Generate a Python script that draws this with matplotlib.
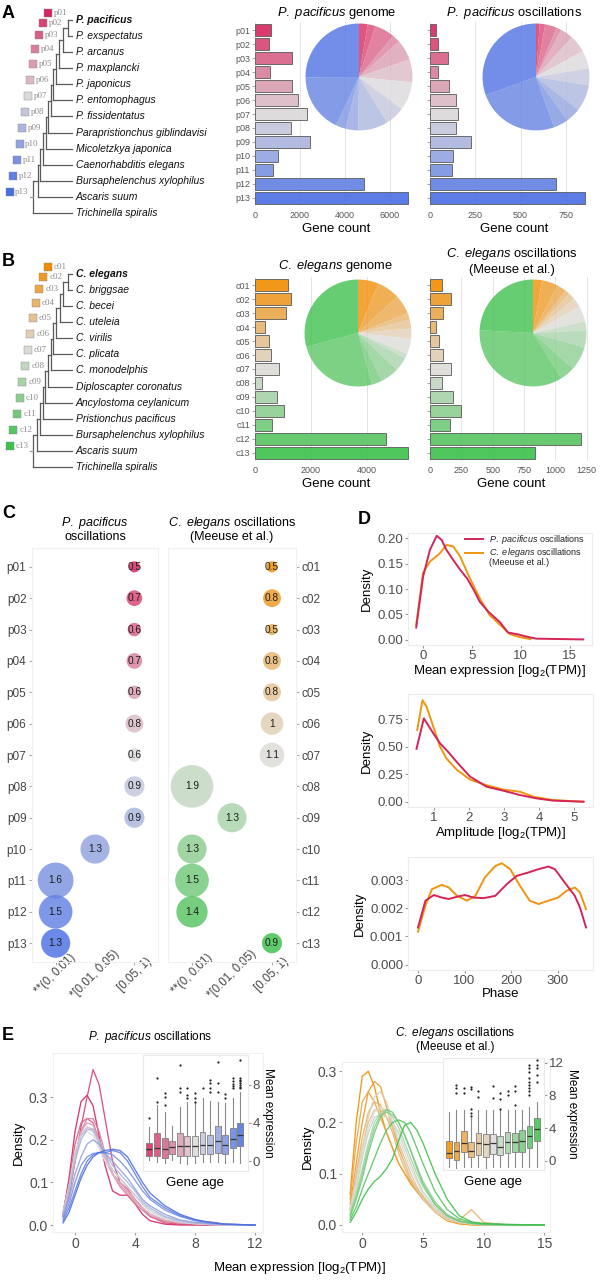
import numpy as np
import matplotlib
matplotlib.use("Agg")
import matplotlib.pyplot as plt
from matplotlib.colors import LinearSegmentedColormap

plt.rcParams['font.family'] = ['Liberation Sans', 'DejaVu Sans']
plt.rcParams['mathtext.fontset'] = 'custom'
plt.rcParams['mathtext.rm'] = 'Liberation Sans'
plt.rcParams['mathtext.it'] = 'Liberation Sans:italic'
plt.rcParams['mathtext.bf'] = 'Liberation Sans:bold'

# ------------------------------------------------------------------ data
pp_classes = ["p%02d" % i for i in range(1, 14)]
ce_classes = ["c%02d" % i for i in range(1, 14)]

pp_species = ["P. pacificus", "P. exspectatus", "P. arcanus", "P. maxplancki",
              "P. japonicus", "P. entomophagus", "P. fissidentatus",
              "Parapristionchus giblindavisi", "Micoletzkya japonica",
              "Caenorhabditis elegans", "Bursaphelenchus xylophilus",
              "Ascaris suum", "Trichinella spiralis"]
ce_species = ["C. elegans", "C. briggsae", "C. becei", "C. uteleia", "C. virilis",
              "C. plicata", "C. monodelphis", "Diploscapter coronatus",
              "Ancylostoma ceylanicum", "Pristionchus pacificus",
              "Bursaphelenchus xylophilus", "Ascaris suum", "Trichinella spiralis"]
# relative depth of the internal nodes (tips = 1, root = 0)
pp_node_depth = [0.92, 0.80, 0.70, 0.62, 0.56, 0.50, 0.44, 0.38, 0.30, 0.24, 0.18, 0.08]
ce_node_depth = [0.92, 0.80, 0.71, 0.63, 0.56, 0.50, 0.44, 0.37, 0.30, 0.24, 0.17, 0.08]

pp_genome = [700, 640, 1660, 670, 1660, 1900, 2340, 1600, 2470, 1040, 815, 4840, 6810]
pp_osc = [31, 46, 100, 44, 106, 146, 152, 144, 224, 128, 124, 698, 854]
ce_genome = [1167, 1274, 1107, 369, 500, 583, 869, 262, 798, 1024, 595, 4679, 5452]
ce_osc = [94, 170, 100, 47, 73, 100, 165, 92, 181, 249, 157, 1208, 841]

pval_bins = ["**(0, 0.01)", "*[0.01, 0.05)", "[0.05, 1)"]
pp_bub_val = [0.5, 0.7, 0.6, 0.7, 0.6, 0.8, 0.6, 0.9, 0.9, 1.3, 1.6, 1.5, 1.3]
pp_bub_bin = [2, 2, 2, 2, 2, 2, 2, 2, 2, 1, 0, 0, 0]
ce_bub_val = [0.5, 0.8, 0.5, 0.8, 0.8, 1.0, 1.1, 1.9, 1.3, 1.3, 1.5, 1.4, 0.9]
ce_bub_bin = [2, 2, 2, 2, 2, 2, 2, 0, 1, 0, 0, 0, 2]

series_names = ["P. pacificus oscillations", "C. elegans oscillations", "(Meeuse et al.)"]
mean_x_pp = [-0.7, 0, 0.7, 1.4, 1.9, 2.4, 3.1, 3.8, 4.5, 5.2, 5.8, 6.7, 7.9, 8.7, 9.6, 10.6, 11.6, 16.4]
mean_y_pp = [0.024, 0.124, 0.177, 0.205, 0.197, 0.177, 0.157, 0.138, 0.121, 0.098, 0.075, 0.055,
             0.034, 0.014, 0.011, 0.006, 0.002, 0.0005]
mean_x_ce = [-0.7, 0, 0.7, 1.7, 2.4, 3.1, 3.8, 4.8, 5.8, 6.8, 7.9, 8.9, 9.9, 11.0]
mean_y_ce = [0.029, 0.132, 0.154, 0.170, 0.187, 0.184, 0.164, 0.121, 0.082, 0.049, 0.029, 0.011, 0.005, 0.001]

amp_x_pp = [0.5, 0.71, 0.98, 1.17, 1.41, 1.65, 2.03, 2.5, 2.98, 3.46, 3.93, 4.4, 5.27]
amp_y_pp = [0.48, 0.756, 0.62, 0.53, 0.45, 0.36, 0.227, 0.136, 0.10, 0.06, 0.03, 0.01, 0.0]
amp_x_ce = [0.52, 0.67, 0.79, 0.98, 1.17, 1.36, 1.65, 2.03, 2.5, 2.98, 3.46, 3.84, 4.4, 5.27]
amp_y_ce = [0.65, 0.92, 0.86, 0.68, 0.50, 0.39, 0.29, 0.20, 0.15, 0.11, 0.09, 0.045, 0.015, 0.0]

phase_x = [0, 16, 34, 51, 66, 84, 101, 119, 141, 166, 191, 212, 237, 259, 280, 294, 315, 337, 348, 361]
phase_pp = [0.00132, 0.00227, 0.00247, 0.00238, 0.00233, 0.00241, 0.00247, 0.00238, 0.00236, 0.00244,
            0.00286, 0.00315, 0.00327, 0.00339, 0.00348, 0.00339, 0.00292, 0.00244, 0.00203, 0.00132]
phase_x_ce = [0, 16, 30, 51, 66, 84, 105, 123, 144, 166, 180, 198, 219, 240, 259, 280, 301, 319, 337, 348, 361]
phase_ce = [0.00117, 0.0021, 0.00268, 0.00283, 0.00274, 0.00244, 0.00227, 0.00244, 0.0031, 0.0035, 0.0036,
            0.00339, 0.0028, 0.00227, 0.00215, 0.00227, 0.00238, 0.00262, 0.00274, 0.00256, 0.00197]

# E: expression densities per gene-age class
e_x_pp = [-0.8, -0.4, 0, 0.4, 0.8, 1.2, 1.6, 2.0, 2.5, 3.0, 3.5, 4.0, 4.5, 5, 6, 7, 8, 9, 10, 12]
e_y_pp = [
    [0.025, 0.11, 0.22, 0.29, 0.305, 0.28, 0.21, 0.14, 0.08, 0.07, 0.07, 0.05, 0.025, 0.01, 0.002, 0, 0, 0, 0, 0],
    [0.02, 0.07, 0.15, 0.23, 0.30, 0.365, 0.33, 0.25, 0.15, 0.10, 0.08, 0.06, 0.04, 0.02, 0.005, 0.002, 0.001, 0, 0, 0],
    [0.03, 0.10, 0.19, 0.24, 0.25, 0.24, 0.20, 0.16, 0.12, 0.10, 0.085, 0.06, 0.04, 0.025, 0.01, 0.004, 0.002, 0.001, 0, 0],
    [0.02, 0.07, 0.15, 0.22, 0.25, 0.25, 0.22, 0.17, 0.12, 0.09, 0.07, 0.05, 0.035, 0.02, 0.008, 0.004, 0.003, 0.001, 0, 0],
    [0.025, 0.08, 0.16, 0.22, 0.24, 0.235, 0.20, 0.16, 0.12, 0.095, 0.075, 0.055, 0.04, 0.025, 0.01, 0.005, 0.004, 0.008, 0.002, 0],
    [0.03, 0.09, 0.17, 0.215, 0.23, 0.225, 0.19, 0.15, 0.12, 0.10, 0.08, 0.06, 0.04, 0.025, 0.012, 0.006, 0.003, 0.001, 0, 0],
    [0.03, 0.09, 0.17, 0.21, 0.22, 0.21, 0.18, 0.15, 0.13, 0.11, 0.09, 0.07, 0.05, 0.03, 0.015, 0.007, 0.003, 0.001, 0, 0],
    [0.03, 0.09, 0.16, 0.21, 0.225, 0.22, 0.19, 0.16, 0.13, 0.11, 0.09, 0.07, 0.05, 0.035, 0.018, 0.008, 0.004, 0.002, 0.001, 0],
    [0.025, 0.08, 0.15, 0.20, 0.225, 0.225, 0.20, 0.17, 0.14, 0.12, 0.10, 0.08, 0.055, 0.04, 0.02, 0.01, 0.005, 0.002, 0.001, 0],
    [0.02, 0.06, 0.12, 0.16, 0.19, 0.20, 0.19, 0.17, 0.15, 0.13, 0.11, 0.085, 0.06, 0.045, 0.025, 0.012, 0.006, 0.003, 0.001, 0],
    [0.015, 0.05, 0.10, 0.14, 0.16, 0.168, 0.17, 0.17, 0.165, 0.15, 0.13, 0.105, 0.08, 0.06, 0.035, 0.02, 0.01, 0.005, 0.002, 0],
    [0.01, 0.04, 0.08, 0.12, 0.15, 0.165, 0.17, 0.17, 0.175, 0.17, 0.15, 0.12, 0.09, 0.065, 0.04, 0.022, 0.012, 0.006, 0.002, 0],
    [0.005, 0.03, 0.07, 0.11, 0.14, 0.16, 0.17, 0.175, 0.178, 0.175, 0.16, 0.13, 0.10, 0.075, 0.045, 0.025, 0.013, 0.006, 0.002, 0],
]
e_x_ce = [-1, -0.5, 0, 0.5, 1, 1.5, 2, 2.5, 3, 3.5, 4, 4.5, 5, 6, 7, 8, 9, 10, 12, 15]
e_y_ce = [
    [0.06, 0.20, 0.29, 0.30, 0.27, 0.22, 0.18, 0.15, 0.12, 0.10, 0.08, 0.065, 0.05, 0.025, 0.008, 0.002, 0, 0, 0, 0],
    [0.04, 0.12, 0.20, 0.26, 0.28, 0.27, 0.23, 0.19, 0.15, 0.12, 0.09, 0.07, 0.05, 0.03, 0.015, 0.006, 0.004, 0.002, 0, 0],
    [0.05, 0.16, 0.24, 0.26, 0.24, 0.21, 0.18, 0.15, 0.12, 0.10, 0.085, 0.07, 0.055, 0.03, 0.012, 0.004, 0.001, 0, 0, 0],
    [0.03, 0.10, 0.17, 0.22, 0.24, 0.235, 0.21, 0.18, 0.14, 0.11, 0.085, 0.065, 0.05, 0.03, 0.015, 0.01, 0.03, 0.005, 0, 0],
    [0.03, 0.09, 0.15, 0.20, 0.225, 0.225, 0.21, 0.19, 0.16, 0.13, 0.10, 0.075, 0.055, 0.03, 0.014, 0.006, 0.002, 0.001, 0, 0],
    [0.03, 0.09, 0.15, 0.21, 0.25, 0.26, 0.24, 0.20, 0.16, 0.12, 0.09, 0.07, 0.05, 0.025, 0.01, 0.004, 0.002, 0, 0, 0],
    [0.03, 0.08, 0.14, 0.19, 0.22, 0.23, 0.225, 0.20, 0.17, 0.14, 0.11, 0.085, 0.06, 0.03, 0.014, 0.006, 0.002, 0.001, 0, 0],
    [0.025, 0.07, 0.13, 0.18, 0.21, 0.215, 0.21, 0.20, 0.18, 0.15, 0.12, 0.09, 0.065, 0.035, 0.016, 0.007, 0.003, 0.001, 0, 0],
    [0.02, 0.06, 0.11, 0.16, 0.20, 0.22, 0.225, 0.21, 0.19, 0.16, 0.13, 0.10, 0.075, 0.04, 0.02, 0.008, 0.003, 0.001, 0, 0],
    [0.02, 0.055, 0.10, 0.15, 0.19, 0.215, 0.22, 0.215, 0.20, 0.175, 0.145, 0.115, 0.085, 0.045, 0.02, 0.008, 0.003, 0.001, 0, 0],
    [0.015, 0.05, 0.09, 0.14, 0.18, 0.21, 0.225, 0.22, 0.20, 0.175, 0.145, 0.11, 0.08, 0.04, 0.018, 0.007, 0.003, 0.001, 0, 0],
    [0.01, 0.035, 0.07, 0.10, 0.13, 0.16, 0.185, 0.20, 0.205, 0.20, 0.18, 0.15, 0.12, 0.065, 0.03, 0.012, 0.005, 0.002, 0.001, 0],
    [0.005, 0.025, 0.05, 0.07, 0.085, 0.095, 0.11, 0.13, 0.165, 0.195, 0.20, 0.185, 0.16, 0.10, 0.05, 0.018, 0.006, 0.003, 0.001, 0],
]

# E insets: boxplots of mean expression by gene age
pp_box_med = [1.22, 1.39, 1.22, 1.5, 1.57, 1.63, 1.57, 1.67, 1.74, 2.09, 1.74, 2.33, 2.78]
pp_box_q1 = [0.52, 0.52, 0.35, 0.70, 0.52, 0.52, 0.52, 0.77, 0.77, 0.87, 0.77, 1.39, 1.57]
pp_box_q3 = [1.91, 2.96, 2.43, 2.09, 2.96, 2.60, 2.60, 3.06, 2.78, 3.65, 2.78, 3.48, 4.00]
pp_box_lo = [0.1, -0.1, -0.2, 0.1, -0.2, -0.3, -0.2, -0.1, -0.1, -0.1, -0.2, -0.1, -0.2]
pp_box_hi = [3.55, 5.9, 5.2, 3.65, 5.7, 6.2, 6.2, 6.6, 6.3, 6.2, 6.1, 6.6, 7.3]
pp_box_out = [[4.5], [6.2, 8.7], [5.9, 6.7, 7.1], [], [7.3, 7.65, 10.1], [6.6, 6.96, 7.65],
              [6.2, 6.6, 7.1], [7.65], [7.3, 7.65, 8.2, 8.5], [7.3, 8.2, 10.4], [6.6, 7.0],
              [7.65, 7.9, 8.1, 8.4, 8.7], [7.65, 7.8, 8.0, 8.2, 8.4, 8.5, 8.7, 10.6]]
ce_box_med = [0.93, 1.26, 2.15, 1.26, 2.15, 2.03, 2.15, 1.75, 2.28, 2.28, 2.44, 3.05, 3.86]
ce_box_q1 = [0.33, 0.12, 1.06, 0.53, 0.73, 0.53, 0.81, 0.73, 1.02, 1.06, 1.14, 1.63, 2.44]
ce_box_q3 = [2.44, 2.28, 3.66, 2.28, 3.37, 3.25, 3.29, 3.0, 3.5, 3.37, 3.78, 4.3, 5.2]
ce_box_lo = [-0.7, -0.8, -0.7, -0.7, -0.7, -0.8, -0.7, -0.7, -0.7, -0.7, -0.7, -0.7, -0.7]
ce_box_hi = [6.0, 6.2, 6.2, 5.3, 6.2, 6.2, 6.2, 6.2, 6.2, 6.2, 6.2, 6.6, 7.2]
ce_box_out = [[], [8.3, 8.9, 9.3], [8.3, 8.9], [5.5, 5.9, 6.4, 8.8, 9.0], [7.8, 8.6], [],
              [7.7, 9.1], [6.4, 7.6, 8.3], [8.0, 8.6], [6.8, 8.6, 9.2], [],
              [8.1, 8.5, 8.9, 9.3, 9.7, 10.1, 10.9, 11.3, 11.7], [9.7, 10.5, 11.3, 11.7, 12.3]]

# ------------------------------------------------------------------ style
CRIMSON = "#D42458"
ORANGE = "#F0950F"
pp_cmap = LinearSegmentedColormap.from_list("pp", ["#D6245C", "#DCD8DA", "#4A6FE3"])
ce_cmap = LinearSegmentedColormap.from_list("ce", ["#F08C00", "#DDDBD8", "#3CC04A"])
pp_colors = [pp_cmap(i / 12) for i in range(13)]
ce_colors = [ce_cmap(i / 12) for i in range(13)]
TICK = "#4d4d4d"

W, H = 601, 1280
fig = plt.figure(figsize=(W / 100, H / 100), dpi=100)


def px_axes(x0, y0, x1, y1):
    return fig.add_axes([x0 / W, 1 - y1 / H, (x1 - x0) / W, (y1 - y0) / H])


def px_text(x, y, s, **kw):
    fig.text(x / W, 1 - y / H, s, **kw)


def soft_frame(ax, color="#ececec"):
    for s in ax.spines.values():
        s.set_color(color)
        s.set_linewidth(0.8)


# ------------------------------------------------------------------ trees
def draw_tree(ax, species, depths, labels, colors):
    ax.set_xlim(-0.72, 4.8)
    ax.set_ylim(13.68, -1.244)
    ax.axis("off")
    lc = "#5a5a5a"
    clade_y = [0.0]
    for k in range(1, len(species)):
        d = depths[k - 1]
        y0 = clade_y[-1]
        ax.plot([d, d], [y0, k], color=lc, lw=0.9)
        ax.plot([d, 1.0], [k, k], color=lc, lw=0.9)
        x_prev = 1.0 if k == 1 else depths[k - 2]
        ax.plot([d, x_prev], [y0, y0], color=lc, lw=0.9)
        clade_y.append((y0 + k) / 2)
    ax.plot([0.0, depths[-1]], [clade_y[-1], clade_y[-1]], color="#999", lw=0.9)
    for i, name in enumerate(species):
        ax.text(1.1, i, name, style="italic", weight="bold" if i == 0 else "normal",
                fontsize=7.5, va="center", ha="left", color="#111")
    node_x = list(depths) + [0.0]
    for k, lab in enumerate(labels):
        y = clade_y[k] - (0.45 if k == 0 else 0.3)
        x = node_x[k] - 0.03
        ax.text(x, y, lab, ha="right", va="center", family="Liberation Serif",
                fontsize=6.5, color="#8c8c8c")
        ax.plot(x - 0.46, y, marker="s", ms=5.2, color=colors[k], mec="#8a8a8a", mew=0.3)


draw_tree(px_axes(0, 0, 230, 240), pp_species, pp_node_depth, pp_classes, pp_colors)
draw_tree(px_axes(0, 254, 230, 494), ce_species, ce_node_depth, ce_classes, ce_colors)


# ------------------------------------------------------------------ bars + pies
def bar_panel(box, values, colors, labels, xmax, xticks, title, title_pad):
    ax = px_axes(*box)
    y = np.arange(len(values))
    ax.barh(y, values, height=0.88, color=colors, alpha=0.9, edgecolor="#5f5f5f",
            linewidth=0.7, zorder=2)
    ax.set_ylim(12.6, -0.6)
    ax.set_xlim(0, xmax)
    ax.set_xticks(xticks)
    ax.set_xticklabels([str(t) for t in xticks])
    ax.grid(axis="x", color="#e4e4e4", lw=0.7)
    ax.set_axisbelow(True)
    for s in ax.spines.values():
        s.set_visible(False)
    ax.set_yticks(y)
    ax.set_yticklabels(labels)
    ax.tick_params(axis="y", length=2, color="#aaa", labelsize=6.5, labelcolor="#555", pad=1.5)
    ax.tick_params(axis="x", length=0, labelsize=6.5, labelcolor="#555", pad=3.5)
    ax.set_xlabel("Gene count", fontsize=9.5, labelpad=2)
    ax.set_title(title, fontsize=9.3, pad=title_pad)
    return ax


def pie_panel(cx, cy, values, colors):
    ax = px_axes(cx - 54, cy - 54, cx + 54, cy + 54)
    ax.pie(values, colors=colors, startangle=90, counterclock=False,
           wedgeprops=dict(linewidth=0, alpha=0.78))
    ax.set_xlim(-1.01, 1.01)
    ax.set_ylim(-1.01, 1.01)


bar_panel((255, 22, 418, 206), pp_genome, pp_colors, pp_classes, 7270, [0, 2000, 4000, 6000],
          r"$\mathit{P.\ pacificus}$ genome", 4)
bar_panel((430, 22, 598, 206), pp_osc, pp_colors, [""] * 13, 928, [0, 250, 500, 750],
          r"$\mathit{P.\ pacificus}$ oscillations", 4)
pie_panel(359, 77, pp_genome, pp_colors)
pie_panel(536, 77, pp_osc, pp_colors)

bar_panel((255, 277, 417, 461), ce_genome, ce_colors, ce_classes, 5786, [0, 2000, 4000],
          r"$\mathit{C.\ elegans}$ genome", 6)
bar_panel((430, 277, 593, 461), ce_osc, ce_colors, [""] * 13, 1300,
          [0, 250, 500, 750, 1000, 1250],
          "$\\mathit{C.\\ elegans}$ oscillations\n(Meeuse et al.)", 3)
pie_panel(358, 333, ce_genome, ce_colors)
pie_panel(533, 333, ce_osc, ce_colors)


# ------------------------------------------------------------------ C bubbles
def bubble_panel(box, vals, bins, colors, labels, right, title):
    ax = px_axes(*box)
    rows = np.arange(len(vals))
    sizes = [(2 * 11.2 * v * 0.72) ** 2 for v in vals]
    ax.scatter(bins, rows, s=sizes, c=colors, alpha=0.82, edgecolors="none", zorder=2)
    for r, b, v in zip(rows, bins, vals):
        ax.text(b, r, f"{v:g}", ha="center", va="center", fontsize=7.3, color="#1e1e1e", zorder=3)
    ax.set_xlim(-0.6, 2.6)
    ax.set_ylim(12.6, -0.6)
    ax.set_yticks(rows)
    ax.set_yticklabels(labels)
    if right:
        ax.yaxis.tick_right()
    ax.set_xticks(range(len(pval_bins)))
    ax.set_xticklabels(pval_bins)
    plt.setp(ax.get_xticklabels(), rotation=45, ha="center", va="center", rotation_mode="anchor")
    ax.tick_params(axis="y", length=2, color="#aaa", labelsize=8.5, labelcolor="#444", pad=2)
    ax.tick_params(axis="x", length=2, color="#aaa", labelsize=8.3, labelcolor="#444", pad=7)
    soft_frame(ax, "#f0f0f0")
    ax.set_title(title, fontsize=9, pad=6, linespacing=1.0)


bubble_panel((32, 548, 158, 962), pp_bub_val, pp_bub_bin, pp_colors, pp_classes, False,
             "$\\mathit{P.\\ pacificus}$\noscillations")
bubble_panel((168, 548, 296, 962), ce_bub_val, ce_bub_bin, ce_colors, ce_classes, True,
             "$\\mathit{C.\\ elegans}$ oscillations\n(Meeuse et al.)")


# ------------------------------------------------------------------ D densities
def density_axes(box, xlim, ylim, xticks, yticks, ylabels, xlabel):
    ax = px_axes(*box)
    ax.set_xlim(*xlim)
    ax.set_ylim(*ylim)
    ax.set_xticks(xticks)
    ax.set_yticks(yticks)
    ax.set_yticklabels(ylabels)
    ax.tick_params(length=2, color="#999", labelsize=9.5, labelcolor=TICK, pad=1.5)
    soft_frame(ax)
    ax.set_ylabel("Density", fontsize=9.5, labelpad=3)
    ax.set_xlabel(xlabel, fontsize=9.5, labelpad=1)
    return ax


d1 = density_axes((408, 533, 592, 645), (-1.54, 17.3), (-0.0105, 0.2105), [0, 5, 10, 15],
                  [0, 0.05, 0.1, 0.15, 0.2], ["0.00", "0.05", "0.10", "0.15", "0.20"],
                  "Mean expression [log$_2$(TPM)]")
d1.plot(mean_x_ce, mean_y_ce, color=ORANGE, lw=1.4)
d1.plot(mean_x_pp, mean_y_pp, color=CRIMSON, lw=1.4)
d1.plot([0.31, 0.408], [0.946, 0.946], color=CRIMSON, lw=1.4, transform=d1.transAxes)
d1.plot([0.31, 0.408], [0.824, 0.824], color=ORANGE, lw=1.4, transform=d1.transAxes)
d1.text(0.44, 0.946, "$\\mathit{P.\\ pacificus}$ oscillations", transform=d1.transAxes,
        fontsize=6.5, va="center", color="#222")
d1.text(0.44, 0.824, "$\\mathit{C.\\ elegans}$ oscillations", transform=d1.transAxes,
        fontsize=6.5, va="center", color="#222")
d1.text(0.44, 0.735, series_names[2], transform=d1.transAxes, fontsize=6.5, va="center", color="#222")

d2 = density_axes((408, 694, 593, 807), (0.257, 5.54), (-0.048, 0.977), [1, 2, 3, 4, 5],
                  [0, 0.25, 0.5, 0.75], ["0.00", "0.25", "0.50", "0.75"],
                  "Amplitude [log$_2$(TPM)]")
d2.plot(amp_x_ce, amp_y_ce, color=ORANGE, lw=1.4)
d2.plot(amp_x_pp, amp_y_pp, color=CRIMSON, lw=1.4)

d3 = density_axes((408, 857, 593, 970), (-21.5, 376), (-0.00019, 0.00382), [0, 100, 200, 300],
                  [0, 0.001, 0.002, 0.003], ["0.000", "0.001", "0.002", "0.003"], "Phase")
d3.plot(phase_x_ce, phase_ce, color=ORANGE, lw=1.4)
d3.plot(phase_x, phase_pp, color=CRIMSON, lw=1.4)


# ------------------------------------------------------------------ E
def expr_panel(box, xs, curves, colors, xlim, ylim, xticks):
    ax = px_axes(*box)
    for ys, c in zip(curves, colors):
        ax.plot(xs, ys, color=c, lw=0.95, alpha=0.9)
    ax.set_xlim(*xlim)
    ax.set_ylim(*ylim)
    ax.set_xticks(xticks)
    ax.set_yticks([0, 0.1, 0.2, 0.3])
    ax.set_yticklabels(["0.0", "0.1", "0.2", "0.3"])
    ax.tick_params(length=2, color="#999", labelsize=10, labelcolor=TICK, pad=1.5)
    soft_frame(ax, "#f0f0f0")
    ax.set_ylabel("Density", fontsize=9.5, labelpad=3)
    return ax


def box_inset(box, med, q1, q3, lo, hi, out, colors, ylim, yticks):
    ax = px_axes(*box)
    stats = [dict(med=m, q1=a, q3=b, whislo=l, whishi=h, fliers=f)
             for m, a, b, l, h, f in zip(med, q1, q3, lo, hi, out)]
    parts = ax.bxp(stats, positions=range(1, 14), widths=0.78, patch_artist=True,
                   showcaps=False,
                   flierprops=dict(marker="o", markersize=1.6, markerfacecolor="#222",
                                   markeredgecolor="none"),
                   medianprops=dict(color="#333", lw=0.9),
                   whiskerprops=dict(color="#8a8a8a", lw=0.8),
                   boxprops=dict(edgecolor="#707070", lw=0.6))
    for patch, c in zip(parts["boxes"], colors):
        patch.set_facecolor(c)
        patch.set_alpha(0.85)
    ax.set_xlim(0.15, 14.0)
    ax.set_ylim(*ylim)
    ax.set_xticks([])
    ax.set_yticks(yticks)
    ax.yaxis.tick_right()
    ax.yaxis.set_label_position("right")
    ax.tick_params(axis="y", length=2, color="#999", labelsize=9.5, labelcolor=TICK, pad=1.5)
    ax.set_ylabel("Mean expression", fontsize=8.5, rotation=270, labelpad=10)
    ax.set_xlabel("Gene age", fontsize=9.5, labelpad=4)
    soft_frame(ax, "#eaeaea")
    return ax


expr_panel((53, 1053, 263, 1232), e_x_pp, e_y_pp, pp_colors, (-1.47, 12.53), (-0.0164, 0.404),
           [0, 4, 8, 12])
box_inset((143, 1055, 248, 1171), pp_box_med, pp_box_q1, pp_box_q3, pp_box_lo, pp_box_hi,
          pp_box_out, pp_colors, (-1.04, 11.13), [0, 4, 8])
expr_panel((342, 1062, 550, 1232), e_x_ce, e_y_ce, ce_colors, (-1.67, 15.47), (-0.0137, 0.318),
           [0, 5, 10, 15])
box_inset((443, 1058, 544, 1170), ce_box_med, ce_box_q1, ce_box_q3, ce_box_lo, ce_box_hi,
          ce_box_out, ce_colors, (-1.1, 12.57), [0, 4, 8, 12])

px_text(150, 1037, "$\\mathit{P.\\ pacificus}$ oscillations", fontsize=8.5, ha="center", va="center")
px_text(455, 1039, "$\\mathit{C.\\ elegans}$ oscillations\n(Meeuse et al.)", fontsize=8.5,
        ha="center", va="center", linespacing=1.0)
px_text(300, 1268, "Mean expression [log$_2$(TPM)]", fontsize=9.5, ha="center", va="center")

# panel letters
for lab, x, y in [("A", 2, 14), ("B", 2, 262), ("C", 2, 514), ("D", 358, 519), ("E", 2, 1035)]:
    px_text(x, y, lab, fontsize=13, weight="bold", ha="left", va="center")

fig.savefig("out.png", dpi=100)
